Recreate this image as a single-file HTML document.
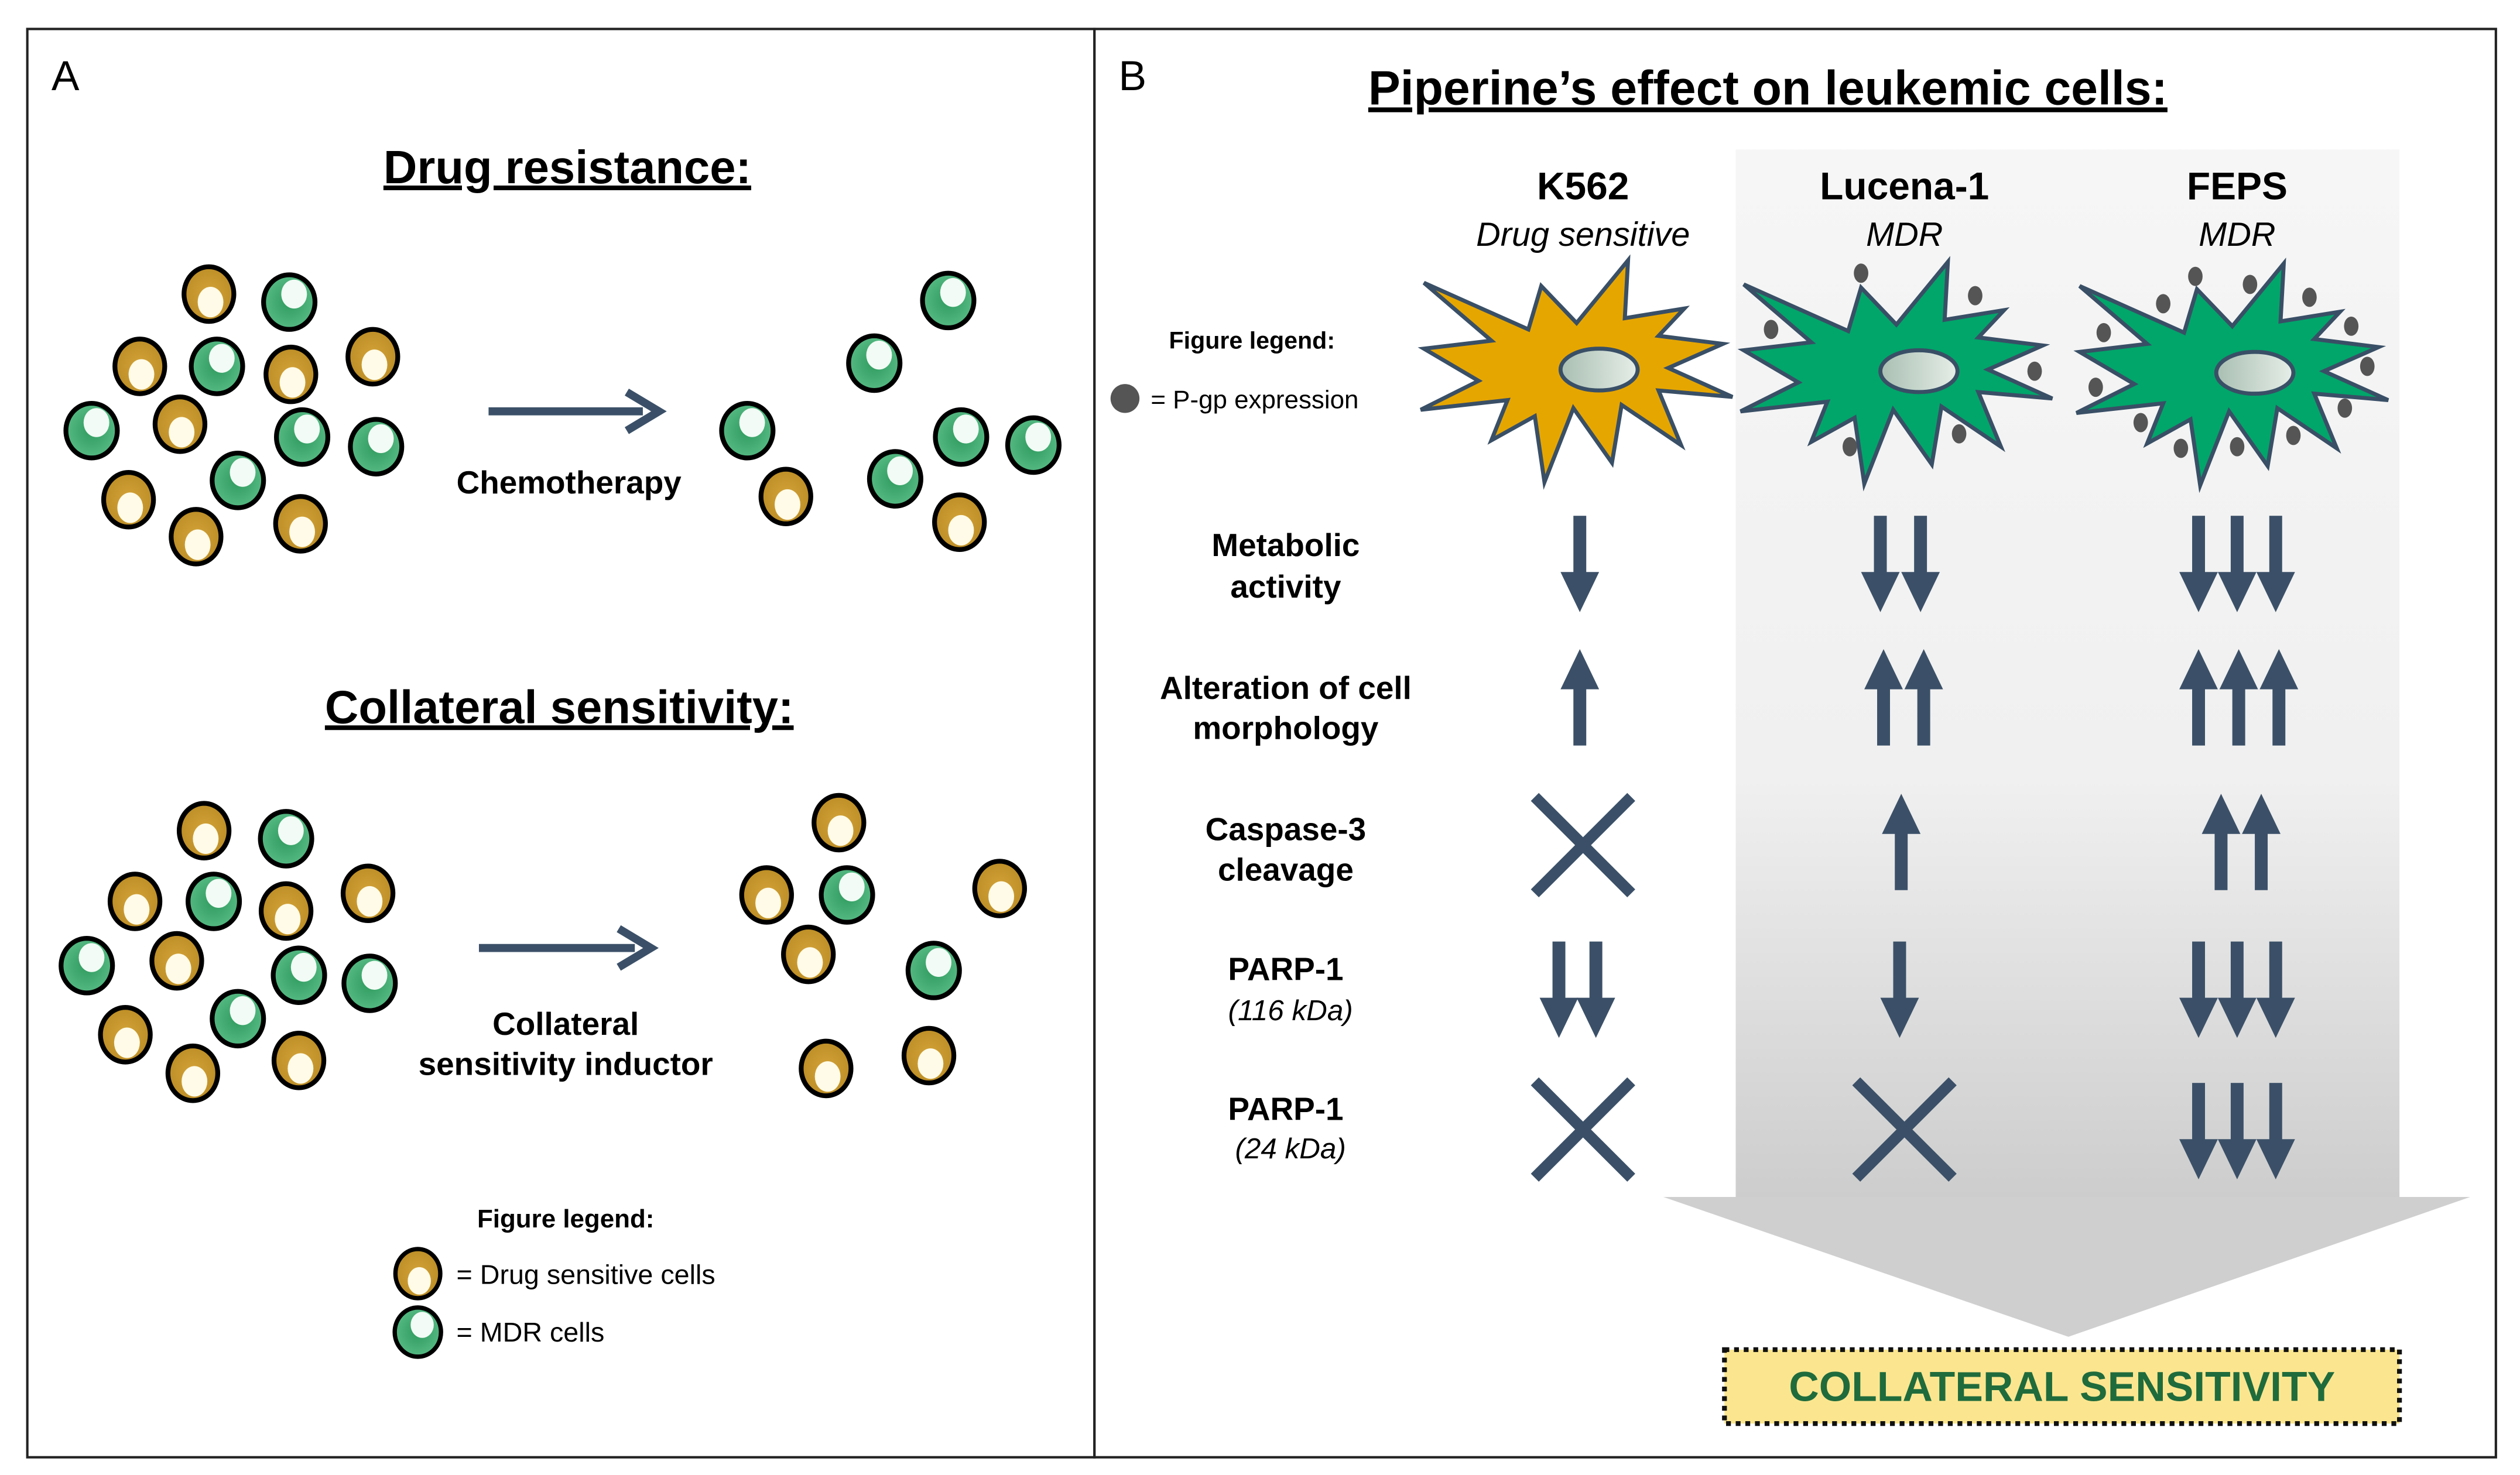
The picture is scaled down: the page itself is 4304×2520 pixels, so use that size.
<!DOCTYPE html>
<html><head><meta charset="utf-8"><style>
html,body{margin:0;padding:0;background:#fff}
svg{display:block}
text{font-family:"Liberation Sans",Arial,sans-serif}
</style></head><body>
<svg width="4304" height="2520" viewBox="0 0 1568 918" xmlns="http://www.w3.org/2000/svg">
<defs>
<radialGradient id="yg" cx="0.5" cy="0.5" r="0.6"><stop offset="0" stop-color="#d4a43a"/><stop offset="1" stop-color="#b98a22"/></radialGradient>
<radialGradient id="gg" cx="0.5" cy="0.5" r="0.6"><stop offset="0" stop-color="#2f9a5e"/><stop offset="1" stop-color="#5cc08a"/></radialGradient>
<g id="y"><ellipse rx="15.5" ry="17" fill="url(#yg)" stroke="#000" stroke-width="3"/><ellipse cx="1" cy="5" rx="8" ry="9.5" fill="#fffbe8"/></g>
<g id="g"><ellipse rx="16" ry="17" fill="url(#gg)" stroke="#000" stroke-width="3"/><ellipse cx="3" cy="-5" rx="8" ry="9" fill="#f2fbf5"/></g>
<linearGradient id="col" x1="0" y1="0" x2="0" y2="1"><stop offset="0" stop-color="#f6f6f6"/><stop offset="0.6" stop-color="#f0f0f0"/><stop offset="1" stop-color="#cdcdcd"/></linearGradient>
<linearGradient id="nuc" x1="0" y1="0" x2="1" y2="0"><stop offset="0" stop-color="#a9bfb2"/><stop offset="1" stop-color="#e6eee8"/></linearGradient>
<g id="dn"><rect x="-4" y="0" width="8" height="38" fill="#3b5068"/><polygon points="-12,35 12,35 0,60" fill="#3b5068"/></g>
<g id="up"><rect x="-4" y="22" width="8" height="38" fill="#3b5068"/><polygon points="-12,25 12,25 0,0" fill="#3b5068"/></g>
<g id="x"><path d="M-30,-30 L30,30 M30,-30 L-30,30" stroke="#3b5068" stroke-width="7"/></g>
<polygon id="star" points="-95,-54 -30,-25 -22,-52 0,-29 32,-68 30,-32 67,-38 51,-21 91,-16 57,-1 97,17 51,13 65,47 28,22 22,58 -2,24 -20,70 -26,29 -53,44 -43,19 -97,25 -61,7 -95,-13 -53,-18" stroke="#394f66" stroke-width="2.5" stroke-linejoin="miter"/>
</defs>

<rect x="17" y="18" width="664" height="889" fill="#fff" stroke="#222" stroke-width="1.5"/>
<rect x="681" y="18" width="872" height="889" fill="#fff" stroke="#222" stroke-width="1.5"/>

<text x="32" y="56" font-size="26">A</text>
<text x="696" y="56" font-size="26">B</text>

<text x="353" y="114" font-size="29" font-weight="bold" text-anchor="middle" text-decoration="underline">Drug resistance:</text>
<g>
<use href="#y" x="130" y="183"/><use href="#g" x="180" y="188"/><use href="#y" x="87" y="228"/><use href="#g" x="135" y="228"/><use href="#y" x="181" y="233"/><use href="#y" x="232" y="222"/><use href="#g" x="57" y="268"/><use href="#y" x="112" y="264"/><use href="#g" x="188" y="272"/><use href="#g" x="234" y="278"/><use href="#y" x="80" y="311"/><use href="#g" x="148" y="299"/><use href="#y" x="122" y="334"/><use href="#y" x="187" y="326"/>
<use href="#g" x="590" y="187"/><use href="#g" x="544" y="226"/><use href="#g" x="465" y="268"/><use href="#y" x="489" y="309"/><use href="#g" x="557" y="298"/><use href="#g" x="598" y="272"/><use href="#g" x="643" y="277"/><use href="#y" x="597" y="325"/>
</g>
<line x1="304" y1="256" x2="400" y2="256" stroke="#3b5068" stroke-width="5"/>
<polyline points="390,244 410,256 390,268" fill="none" stroke="#3b5068" stroke-width="5"/>
<text x="354" y="307" font-size="20" font-weight="bold" text-anchor="middle">Chemotherapy</text>

<text x="348" y="450" font-size="29" font-weight="bold" text-anchor="middle" text-decoration="underline">Collateral sensitivity:</text>
<g>
<use href="#y" x="127" y="517"/><use href="#g" x="178" y="522"/><use href="#y" x="84" y="561"/><use href="#g" x="133" y="561"/><use href="#y" x="178" y="567"/><use href="#y" x="229" y="556"/><use href="#g" x="54" y="601"/><use href="#y" x="110" y="598"/><use href="#g" x="186" y="607"/><use href="#g" x="230" y="612"/><use href="#y" x="78" y="644"/><use href="#g" x="148" y="634"/><use href="#y" x="120" y="668"/><use href="#y" x="186" y="660"/>
<use href="#y" x="522" y="512"/><use href="#y" x="477" y="557"/><use href="#g" x="527" y="557"/><use href="#y" x="622" y="553"/><use href="#y" x="503" y="594"/><use href="#g" x="581" y="604"/><use href="#y" x="514" y="665"/><use href="#y" x="578" y="657"/>
</g>
<line x1="298" y1="590" x2="395" y2="590" stroke="#3b5068" stroke-width="5"/>
<polyline points="385,578 405,590 385,602" fill="none" stroke="#3b5068" stroke-width="5"/>
<text x="352" y="644" font-size="20" font-weight="bold" text-anchor="middle">Collateral</text>
<text x="352" y="669" font-size="20" font-weight="bold" text-anchor="middle">sensitivity inductor</text>

<text x="352" y="764" font-size="16" font-weight="bold" text-anchor="middle">Figure legend:</text>
<use href="#y" x="260" y="793" transform="translate(26 79) scale(0.9)" />
<text x="284" y="799" font-size="17">= Drug sensitive cells</text>
<use href="#g" x="260" y="829" transform="translate(26 83) scale(0.9)"/>
<text x="284" y="835" font-size="17">= MDR cells</text>

<text x="1100" y="65" font-size="30" font-weight="bold" text-anchor="middle" text-decoration="underline">Piperine’s effect on leukemic cells:</text>
<rect x="1080" y="93" width="413" height="652" fill="url(#col)"/>
<polygon points="1035,745 1537,745 1287,832" fill="#cfcfcf"/>

<text x="985" y="124" font-size="24" font-weight="bold" text-anchor="middle">K562</text>
<text x="985" y="153" font-size="21" font-style="italic" text-anchor="middle">Drug sensitive</text>
<text x="1185" y="124" font-size="24" font-weight="bold" text-anchor="middle">Lucena-1</text>
<text x="1185" y="153" font-size="21" font-style="italic" text-anchor="middle">MDR</text>
<text x="1392" y="124" font-size="24" font-weight="bold" text-anchor="middle">FEPS</text>
<text x="1392" y="153" font-size="21" font-style="italic" text-anchor="middle">MDR</text>

<text x="779" y="217" font-size="15" font-weight="bold" text-anchor="middle">Figure legend:</text>
<circle cx="700" cy="248" r="9" fill="#555"/>
<text x="716" y="254" font-size="16">= P-gp expression</text>

<g transform="translate(981 230)"><use href="#star" fill="#e6a600"/><ellipse cx="14" cy="0" rx="24" ry="13" fill="url(#nuc)" stroke="#394f66" stroke-width="2.5"/></g>
<g transform="translate(1180 231)"><use href="#star" fill="#00a66a"/><ellipse cx="14" cy="0" rx="24" ry="13" fill="url(#nuc)" stroke="#394f66" stroke-width="2.5"/></g>
<g transform="translate(1389 232)"><use href="#star" fill="#00a66a"/><ellipse cx="14" cy="0" rx="24" ry="13" fill="url(#nuc)" stroke="#394f66" stroke-width="2.5"/></g>
<g fill="#555">
<ellipse cx="1158" cy="170" rx="4.5" ry="6"/><ellipse cx="1229" cy="184" rx="4.5" ry="6"/><ellipse cx="1102" cy="205" rx="4.5" ry="6"/><ellipse cx="1266" cy="231" rx="4.5" ry="6"/><ellipse cx="1151" cy="278" rx="4.5" ry="6"/><ellipse cx="1219" cy="270" rx="4.5" ry="6"/>
<ellipse cx="1366" cy="172" rx="4.5" ry="6"/><ellipse cx="1400" cy="177" rx="4.5" ry="6"/><ellipse cx="1346" cy="189" rx="4.5" ry="6"/><ellipse cx="1437" cy="185" rx="4.5" ry="6"/><ellipse cx="1309" cy="207" rx="4.5" ry="6"/><ellipse cx="1463" cy="203" rx="4.5" ry="6"/><ellipse cx="1473" cy="228" rx="4.5" ry="6"/><ellipse cx="1304" cy="241" rx="4.5" ry="6"/><ellipse cx="1459" cy="254" rx="4.5" ry="6"/><ellipse cx="1332" cy="263" rx="4.5" ry="6"/><ellipse cx="1427" cy="271" rx="4.5" ry="6"/><ellipse cx="1357" cy="279" rx="4.5" ry="6"/><ellipse cx="1392" cy="278" rx="4.5" ry="6"/>
</g>

<g font-size="20" font-weight="bold" text-anchor="middle">
<text x="800" y="346">Metabolic</text><text x="800" y="372">activity</text>
<text x="800" y="435">Alteration of cell</text><text x="800" y="460">morphology</text>
<text x="800" y="523">Caspase-3</text><text x="800" y="548">cleavage</text>
<text x="800" y="610">PARP-1</text>
<text x="800" y="697">PARP-1</text>
</g>
<g font-size="18" font-style="italic" text-anchor="middle">
<text x="803" y="635">(116 kDa)</text><text x="803" y="721">(24 kDa)</text>
</g>

<use href="#dn" x="983" y="321"/>
<use href="#dn" x="1170" y="321"/><use href="#dn" x="1195" y="321"/>
<use href="#dn" x="1368" y="321"/><use href="#dn" x="1392" y="321"/><use href="#dn" x="1416" y="321"/>
<use href="#up" x="983" y="404"/>
<use href="#up" x="1172" y="404"/><use href="#up" x="1197" y="404"/>
<use href="#up" x="1368" y="404"/><use href="#up" x="1393" y="404"/><use href="#up" x="1418" y="404"/>
<use href="#x" x="985" y="526"/>
<use href="#up" x="1183" y="494"/>
<use href="#up" x="1382" y="494"/><use href="#up" x="1407" y="494"/>
<use href="#dn" x="970" y="586"/><use href="#dn" x="993" y="586"/>
<use href="#dn" x="1182" y="586"/>
<use href="#dn" x="1368" y="586"/><use href="#dn" x="1392" y="586"/><use href="#dn" x="1416" y="586"/>
<use href="#x" x="985" y="703"/>
<use href="#x" x="1185" y="703"/>
<use href="#dn" x="1368" y="674"/><use href="#dn" x="1392" y="674"/><use href="#dn" x="1416" y="674"/>

<rect x="1073" y="840" width="420" height="46" fill="#fbe68f" stroke="#111" stroke-width="3" stroke-dasharray="3 3"/>
<text x="1283" y="872" font-size="26" font-weight="bold" fill="#1f6b3c" text-anchor="middle">COLLATERAL SENSITIVITY</text>
</svg>
</body></html>
